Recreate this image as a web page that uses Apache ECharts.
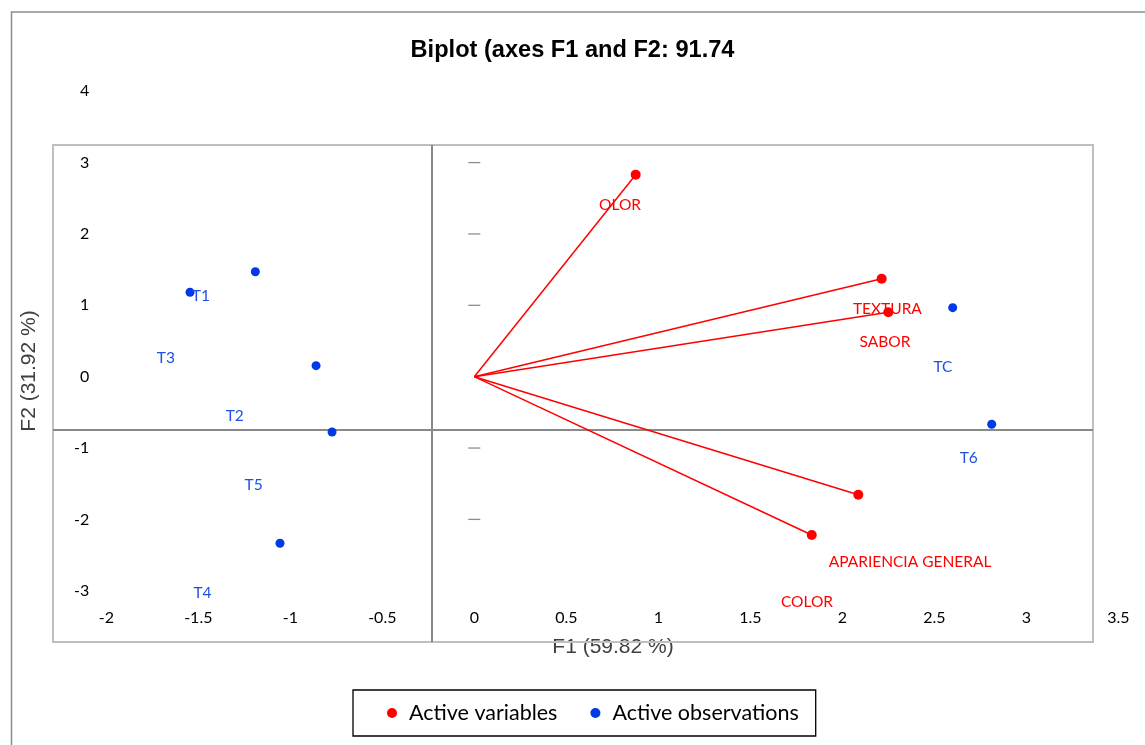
<!DOCTYPE html>
<html>
<head>
<meta charset="utf-8">
<title>Biplot</title>
<script src="https://cdn.jsdelivr.net/npm/echarts@6/dist/echarts.min.js"></script>
<style>
    html, body { margin: 0; padding: 0; background: #fff; }
    #biplot { width: 1145px; height: 745px; }
</style>
</head>
<body>
<div id="biplot"></div>
<script>
    // tick labels
    const xTicks = [-2, -1.5, -1, -0.5, 0, 0.5, 1, 1.5, 2, 2.5, 3, 3.5];
    const yTicks = [-3, -2, -1, 0, 1, 2, 3, 4];
    // small tick dashes on the (hidden) F2 axis through x = 0
    const dashTicks = [3, 2, 1, -1, -2];

    // active variables (red vectors)
    const varNames = ['OLOR', 'TEXTURA', 'SABOR', 'APARIENCIA GENERAL', 'COLOR'];
    const varX = [0.877, 2.214, 2.250, 2.087, 1.834];
    const varY = [2.831, 1.373, 0.902, -1.654, -2.218];
    const varLabelX = [0.792, 2.245, 2.232, 2.368, 1.808];
    const varLabelY = [2.406, 0.942, 0.486, -2.597, -3.157];

    // active observations (blue points)
    const obsNames = ['T1', 'T3', 'T2', 'T5', 'T4', 'TC', 'T6'];
    const obsX = [-1.545, -1.190, -0.860, -0.773, -1.056, 2.600, 2.812];
    const obsY = [1.183, 1.471, 0.154, -0.775, -2.335, 0.967, -0.667];
    const obsLabelX = [-1.486, -1.676, -1.302, -1.199, -1.477, 2.547, 2.687];
    const obsLabelY = [1.127, 0.265, -0.555, -1.522, -3.031, 0.129, -1.139];

    const RED = '#FF0000';
    const BLUE = '#0039E6';
    const BLUE_TEXT = '#1F50E6';
    const LABEL_FONT = 'Lato';

    let chart = echarts.init(document.getElementById('biplot'));

    let vectorSeries = varNames.map(function (name, i) {
        return {
            name: 'vec-' + name,
            type: 'line',
            data: [[0, 0], [varX[i], varY[i]]],
            symbol: 'none',
            silent: true,
            z: 2,
            lineStyle: { color: RED, width: 1.5 }
        };
    });

    let option = {
        animation: false,
        title: {
            text: 'Biplot (axes F1 and F2: 91.74',
            left: 'center',
            top: 33,
            textStyle: { fontFamily: 'Liberation Sans', fontWeight: 'bold', fontSize: 23.6, color: '#000' }
        },
        legend: {
            data: ['Active variables', 'Active observations'],
            left: 353,
            top: 690,
            padding: [12, 17, 12, 34],
            itemWidth: 24,
            itemHeight: 10,
            itemGap: 33,
            icon: 'circle',
            borderColor: '#000',
            borderWidth: 1.3,
            borderRadius: 0,
            textStyle: { fontFamily: LABEL_FONT, fontSize: 21.5, color: '#000' }
        },
        grid: {
            left: 106.3,
            right: 26.7,
            top: 73.4,
            bottom: 136.4,
            containLabel: false,
            outerBoundsMode: 'none'
        },
        xAxis: {
            type: 'value',
            min: xTicks[0],
            max: xTicks[xTicks.length - 1],
            interval: 0.5,
            axisLine: { show: false },
            axisTick: { show: false },
            splitLine: { show: false },
            axisLabel: { fontFamily: LABEL_FONT, fontSize: 16, color: '#000', margin: 1 }
        },
        yAxis: {
            type: 'value',
            min: -3.25,
            max: 4.25,
            axisLine: { show: false },
            axisTick: { show: false, customValues: yTicks },
            splitLine: { show: false },
            axisLabel: {
                customValues: yTicks,
                fontFamily: LABEL_FONT, fontSize: 16, color: '#000',
                align: 'right', margin: 17, padding: [3, 0, 0, 0]
            }
        },
        graphic: [
            // outer chart border (cut by the picture edges)
            { type: 'polyline', z: 0, shape: { points: [[11.5, 745], [11.5, 12], [1145, 12]] },
              style: { stroke: '#8C8C8C', lineWidth: 1.5, fill: null } },
            { type: 'text', z: 0, x: 613, y: 647,
              style: { text: 'F1 (59.82 %)', fontFamily: 'Liberation Sans', fontSize: 21, fill: '#404040',
                       align: 'center', verticalAlign: 'middle' } },
            { type: 'text', z: 0, x: 29, y: 371, rotation: Math.PI / 2,
              style: { text: 'F2 (31.92 %)', fontFamily: 'Liberation Sans', fontSize: 21, fill: '#404040',
                       align: 'center', verticalAlign: 'middle' } },
            // plot frame
            { type: 'rect', z: 0, shape: { x: 53, y: 145, width: 1040, height: 497 },
              style: { stroke: '#BFBFBF', lineWidth: 2, fill: null } },
            // misplaced axis lines
            { type: 'line', z: 0, shape: { x1: 432, y1: 145, x2: 432, y2: 642 },
              style: { stroke: '#898989', lineWidth: 2 } },
            { type: 'line', z: 0, shape: { x1: 53, y1: 430, x2: 1093, y2: 430 },
              style: { stroke: '#898989', lineWidth: 2 } }
        ],
        series: [
            {
                name: 'Active variables',
                type: 'scatter',
                symbol: 'circle',
                symbolSize: 10,
                z: 4,
                itemStyle: { color: RED, opacity: 1 },
                data: varX.map(function (x, i) { return [x, varY[i]]; })
            },
            {
                name: 'Active observations',
                type: 'scatter',
                symbol: 'circle',
                symbolSize: 9,
                z: 4,
                itemStyle: { color: BLUE, opacity: 1 },
                data: obsX.map(function (x, i) { return [x, obsY[i]]; })
            },
            {
                name: 'Active variables',
                type: 'scatter',
                symbolSize: 0,
                z: 5,
                silent: true,
                itemStyle: { color: RED, opacity: 1 },
                label: {
                    show: true, position: 'inside', formatter: '{b}',
                    fontFamily: LABEL_FONT, fontSize: 15.5, color: RED
                },
                data: varNames.map(function (n, i) { return { name: n, value: [varLabelX[i], varLabelY[i]] }; })
            },
            {
                name: 'Active observations',
                type: 'scatter',
                symbolSize: 0,
                z: 5,
                silent: true,
                itemStyle: { color: BLUE, opacity: 1 },
                label: {
                    show: true, position: 'inside', formatter: '{b}',
                    fontFamily: LABEL_FONT, fontSize: 15.5, color: BLUE_TEXT
                },
                data: obsNames.map(function (n, i) { return { name: n, value: [obsLabelX[i], obsLabelY[i]] }; })
            },
            {
                name: 'axis-dashes',
                type: 'scatter',
                symbol: 'rect',
                symbolSize: [12, 1.3],
                silent: true,
                z: 1,
                itemStyle: { color: '#8C8C8C', opacity: 1 },
                data: dashTicks.map(function (v) { return [0, v]; })
            }
        ].concat(vectorSeries)
    };

    chart.setOption(option, true);
</script>
</body>
</html>
